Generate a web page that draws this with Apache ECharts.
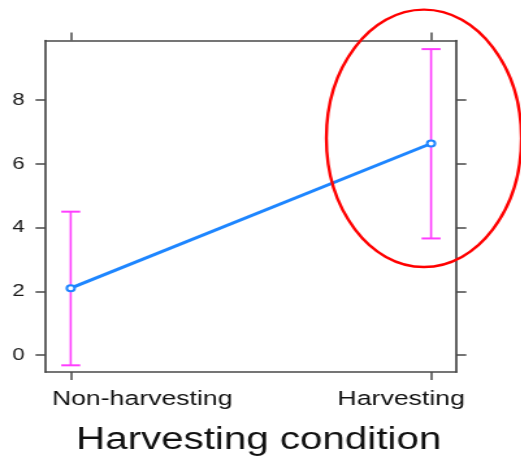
<!DOCTYPE html>
<html>
<head>
<meta charset="utf-8">
<script src="https://cdn.jsdelivr.net/npm/echarts@6/dist/echarts.min.js"></script>
<style>
  html, body { margin: 0; padding: 0; background: #fff; overflow: hidden; }
  /* the figure is laid out narrow and then widened as a whole */
  #chart { width: 401px; height: 456px; transform: scaleX(1.3); transform-origin: 0 0; }
</style>
</head>
<body>
<div id="chart"></div>
<script>
// Harvesting conditions (x positions 1 and 2)
const categories = ['Non-harvesting', 'Harvesting'];
// estimated means and interval bounds
const means = [2.10, 6.64];
const lower = [-0.32, 3.66];
const upper = [4.50, 9.60];
// y tick labels
const yTicks = [0, 2, 4, 6, 8];
// highlighted estimate (category position, value at ellipse centre)
const highlight = [[1.98, 6.8]];

const FONT = 'Liberation Sans, Arial, sans-serif';
const AXIS_COLOR = '#484848';
const xPos = categories.map((_, i) => i + 1);

const lineData = xPos.map((x, i) => [x, means[i]]);
const barData = xPos.map((x, i) => [x, lower[i], upper[i]]);

const chart = echarts.init(document.getElementById('chart'), null, { renderer: 'canvas' });

const axisLineStyle = { show: true, onZero: false, lineStyle: { color: AXIS_COLOR, width: 1.7 } };
const catLabel = { fontFamily: FONT, fontSize: 20.5, color: '#111' };

chart.setOption({
  animation: false,
  backgroundColor: '#fff',
  grid: { left: 35, top: 40.5, width: 316, height: 331.5, containLabel: false, outerBoundsMode: 'none' },
  xAxis: [
    {
      type: 'value', position: 'bottom', min: 0.93, max: 2.07,
      axisLine: axisLineStyle,
      axisTick: { show: true, length: 8, customValues: xPos, lineStyle: { color: AXIS_COLOR, width: 1.5 } },
      axisLabel: {
        show: true, customValues: xPos, margin: 17,
        // the outer labels are pulled inwards so they stay inside the figure
        formatter: v => {
          const i = Math.round(v) - 1;
          return i === 0 ? '{first|' + categories[0] + '}' : '{last|' + categories[i] + '}';
        },
        rich: {
          first: Object.assign({ padding: [0, 0, 0, 110] }, catLabel),
          last: Object.assign({ padding: [0, 46, 0, 0] }, catLabel)
        },
        fontFamily: FONT, fontSize: 20.5, color: '#111'
      },
      splitLine: { show: false },
      name: 'Harvesting condition', nameLocation: 'middle', nameGap: 53,
      nameTextStyle: { fontFamily: FONT, fontSize: 31, color: '#111', padding: [0, 0, 0, 12] }
    },
    {
      type: 'value', position: 'top', min: 0.93, max: 2.07,
      axisLine: axisLineStyle,
      axisTick: { show: true, length: 8, customValues: xPos, lineStyle: { color: AXIS_COLOR, width: 1.5 } },
      axisLabel: { show: false },
      splitLine: { show: false }
    }
  ],
  yAxis: [
    {
      type: 'value', position: 'left', min: -0.53, max: 9.87,
      axisLine: axisLineStyle,
      axisTick: { show: true, length: 7.7, customValues: yTicks, lineStyle: { color: AXIS_COLOR, width: 1.5 } },
      axisLabel: { show: true, customValues: yTicks, margin: 16, fontFamily: FONT, fontSize: 17, color: '#1a1a1a' },
      splitLine: { show: false }
    },
    {
      type: 'value', position: 'right', min: -0.53, max: 9.87,
      axisLine: axisLineStyle,
      axisTick: { show: true, length: 7.7, customValues: yTicks, lineStyle: { color: AXIS_COLOR, width: 1.5 } },
      axisLabel: { show: false },
      splitLine: { show: false }
    }
  ],
  series: [
    {
      // interval bars with end caps
      type: 'custom', xAxisIndex: 0, yAxisIndex: 0, z: 2,
      data: barData,
      renderItem: function (params, api) {
        const x = api.value(0);
        const pLo = api.coord([x, api.value(1)]);
        const pHi = api.coord([x, api.value(2)]);
        const hw = 7.3;
        const style = { stroke: '#ff3dff', lineWidth: 1.6 };
        return {
          type: 'group',
          children: [
            { type: 'line', shape: { x1: pLo[0], y1: pLo[1], x2: pHi[0], y2: pHi[1] }, style: style },
            { type: 'line', shape: { x1: pHi[0] - hw, y1: pHi[1], x2: pHi[0] + hw, y2: pHi[1] }, style: { stroke: '#ff3dff', lineWidth: 2 } },
            { type: 'line', shape: { x1: pLo[0] - hw, y1: pLo[1], x2: pLo[0] + hw, y2: pLo[1] }, style: { stroke: '#ff3dff', lineWidth: 2 } }
          ]
        };
      }
    },
    {
      type: 'line', xAxisIndex: 0, yAxisIndex: 0, z: 3,
      data: lineData,
      symbol: 'emptyCircle', symbolSize: 6,
      lineStyle: { color: '#1e86ff', width: 3 },
      itemStyle: { color: '#1e86ff', borderColor: '#1e86ff', borderWidth: 2.2 }
    },
    {
      // red ellipse around the harvesting estimate
      type: 'custom', xAxisIndex: 0, yAxisIndex: 0, z: 4, clip: false,
      data: highlight,
      renderItem: function (params, api) {
        const c = api.coord([api.value(0), api.value(1)]);
        return {
          type: 'ellipse',
          shape: { cx: c[0], cy: c[1], rx: 75, ry: 128.7 },
          style: { fill: 'none', stroke: '#ff0000', lineWidth: 2.4 }
        };
      }
    }
  ]
});
</script>
</body>
</html>
